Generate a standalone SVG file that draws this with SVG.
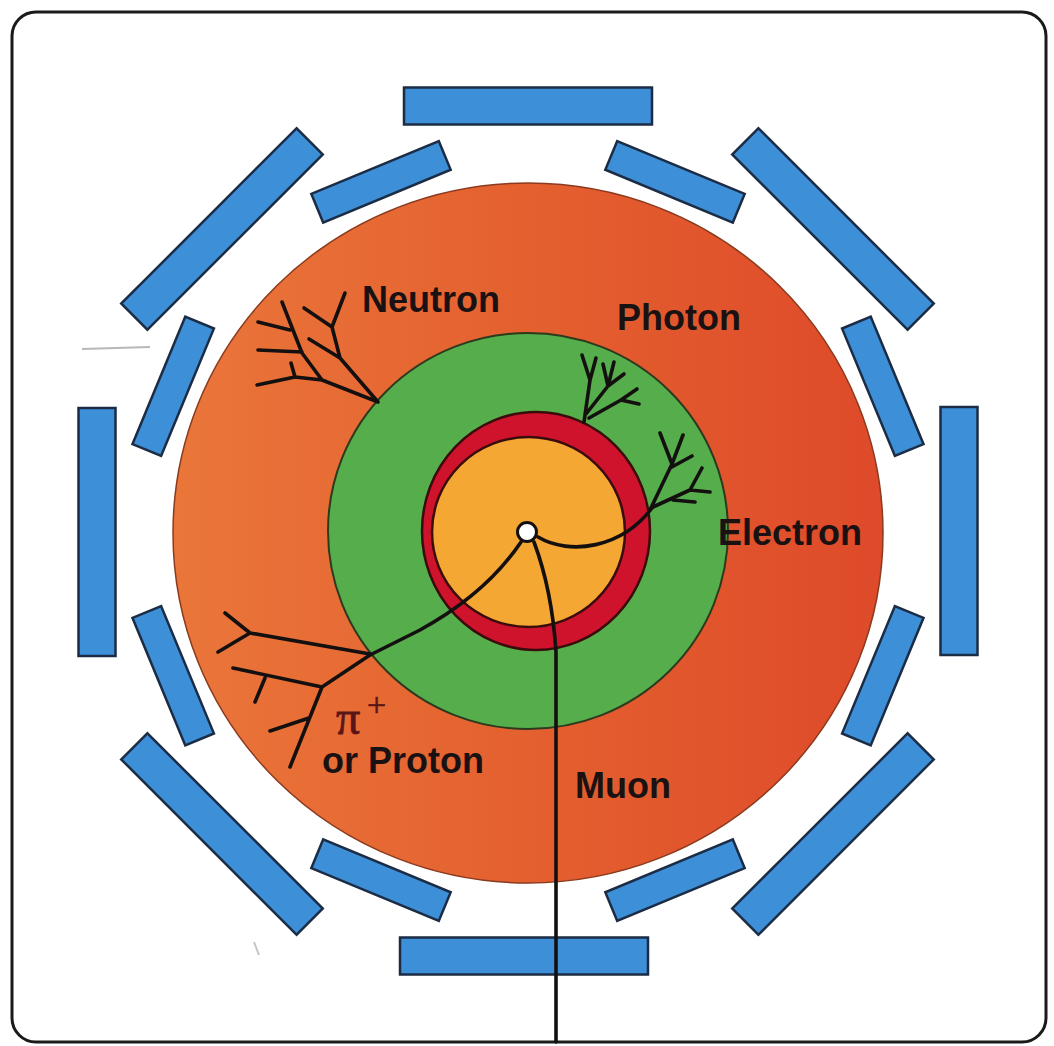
<svg xmlns="http://www.w3.org/2000/svg" width="1054" height="1046" viewBox="0 0 1054 1046">
  <defs>
    <linearGradient id="hadcal" x1="0" y1="0" x2="1" y2="0">
      <stop offset="0" stop-color="#ea763a"/>
      <stop offset="0.5" stop-color="#e4602f"/>
      <stop offset="1" stop-color="#de4a2a"/>
    </linearGradient>
    <style>
      .chamber { fill: #3d8fd8; stroke: #1b2c44; stroke-width: 2.5; }
      .trk { fill: none; stroke: #141010; stroke-width: 3.6; stroke-linecap: round; stroke-linejoin: round; }
      .lbl { font-family: "Liberation Sans", Arial, sans-serif; font-weight: bold; font-size: 36px; fill: #1a1212; }
      .greek { font-family: "Liberation Serif", "Times New Roman", serif; fill: #5a1616; }
    </style>
  </defs>

  <!-- frame -->
  <g id="frame">
    <rect x="0" y="0" width="1054" height="1046" fill="#ffffff"/>
    <rect x="12" y="12" width="1034" height="1030" rx="24" fill="#ffffff" stroke="#1a1a1a" stroke-width="3"/>
    <path d="M82,349 L150,347" stroke="#b8b8b8" stroke-width="2" fill="none"/>
    <path d="M254,942 L259,955" stroke="#c4c4c4" stroke-width="2" fill="none"/>
  </g>

  <!-- detector layers -->
  <g id="hadron-calorimeter">
    <ellipse cx="528" cy="533" rx="355" ry="350" fill="url(#hadcal)" stroke="#8a3a1e" stroke-width="1.5"/>
  </g>
  <g id="em-calorimeter">
    <ellipse cx="528" cy="531" rx="200" ry="198" fill="#55ad4b" stroke="#2d3a1e" stroke-width="2"/>
  </g>
  <g id="solenoid">
    <ellipse cx="536" cy="531" rx="114" ry="119" fill="#d0132d" stroke="#3a0c0c" stroke-width="2.5"/>
  </g>
  <g id="tracker">
    <ellipse cx="528.5" cy="532" rx="96.5" ry="95" fill="#f4a733" stroke="#3a0c0c" stroke-width="2.5"/>
  </g>

  <!-- muon chambers: outer ring -->
  <g id="muon-outer">
    <rect class="chamber" x="-124" y="-18.5" width="248" height="37" transform="translate(959,531) rotate(90)"/>
    <rect class="chamber" x="-124" y="-18.5" width="248" height="37" transform="translate(833,834) rotate(135)"/>
    <rect class="chamber" x="-124" y="-18.5" width="248" height="37" transform="translate(524,956) rotate(180)"/>
    <rect class="chamber" x="-124" y="-18.5" width="248" height="37" transform="translate(222,834) rotate(225)"/>
    <rect class="chamber" x="-124" y="-18.5" width="248" height="37" transform="translate(97,532) rotate(270)"/>
    <rect class="chamber" x="-124" y="-18.5" width="248" height="37" transform="translate(222,229) rotate(315)"/>
    <rect class="chamber" x="-124" y="-18.5" width="248" height="37" transform="translate(528,106) rotate(0)"/>
    <rect class="chamber" x="-124" y="-18.5" width="248" height="37" transform="translate(833,229) rotate(45)"/>
  </g>

  <!-- muon chambers: inner ring -->
  <g id="muon-inner">
    <rect class="chamber" x="-69" y="-15.5" width="138" height="31" transform="translate(882.8,675.7) rotate(112.5)"/>
    <rect class="chamber" x="-69" y="-15.5" width="138" height="31" transform="translate(675,880.2) rotate(157.5)"/>
    <rect class="chamber" x="-69" y="-15.5" width="138" height="31" transform="translate(381,880.2) rotate(202.5)"/>
    <rect class="chamber" x="-69" y="-15.5" width="138" height="31" transform="translate(173.2,675.7) rotate(247.5)"/>
    <rect class="chamber" x="-69" y="-15.5" width="138" height="31" transform="translate(173.2,386.3) rotate(292.5)"/>
    <rect class="chamber" x="-69" y="-15.5" width="138" height="31" transform="translate(381,181.8) rotate(337.5)"/>
    <rect class="chamber" x="-69" y="-15.5" width="138" height="31" transform="translate(675,181.8) rotate(22.5)"/>
    <rect class="chamber" x="-69" y="-15.5" width="138" height="31" transform="translate(882.8,386.3) rotate(67.5)"/>
  </g>

  <!-- particle tracks and showers -->
  <g id="tracks">
    <!-- muon -->
    <path class="trk" d="M534,542 Q552,590 556,652 L556,1042"/>
    <!-- electron -->
    <path class="trk" d="M538,537 C570,556 622,548 652,508"/>
    <path class="trk" d="M650,510 L672,464 L660,433 M672,464 L683,435 M670,468 L692,456 M653,507 L690,490 L710,492 M690,490 L702,468 M673,500 L695,502"/>
    <!-- photon -->
    <path class="trk" d="M584,422 L590,380 L582,355 M590,380 L596,358 M586,414 L608,386 L603,364 M608,386 L614,362 M608,386 L624,374 M589,418 L621,400 L637,389 M621,400 L639,404"/>
    <!-- pion / proton -->
    <path class="trk" d="M521,542 Q486,594 420,630 L370,655"/>
    <path class="trk" d="M370,654 L250,633 L225,613 M250,633 L218,652 M370,655 L322,687 L233,668 M265,678 L255,702 M322,687 L290,767 M309,718 L270,731"/>
    <!-- neutron -->
    <path class="trk" d="M378,402 L340,358 L332,327 L345,293 M332,327 L304,308 M340,358 L309,339 M378,402 L322,380 L302,353 L282,302 M290,330 L258,322 M302,352 L258,350 M322,380 L295,377 L257,385 M295,377 L291,363"/>
  </g>

  <!-- vertex -->
  <g id="vertex">
    <circle cx="527" cy="532" r="9.5" fill="#ffffff" stroke="#141010" stroke-width="3"/>
  </g>

  <!-- labels -->
  <g id="labels">
    <text class="lbl" x="362" y="312">Neutron</text>
    <text class="lbl" x="617" y="330">Photon</text>
    <text class="lbl" x="718" y="545">Electron</text>
    <text class="lbl" x="575" y="798">Muon</text>
    <text class="lbl" x="322" y="773">or Proton</text>
    <text class="greek" x="336" y="734" font-size="48" stroke="#5a1616" stroke-width="0.8">π</text>
    <text class="greek" x="367" y="716" font-size="34" stroke="#5a1616" stroke-width="0.6">+</text>
  </g>
</svg>
